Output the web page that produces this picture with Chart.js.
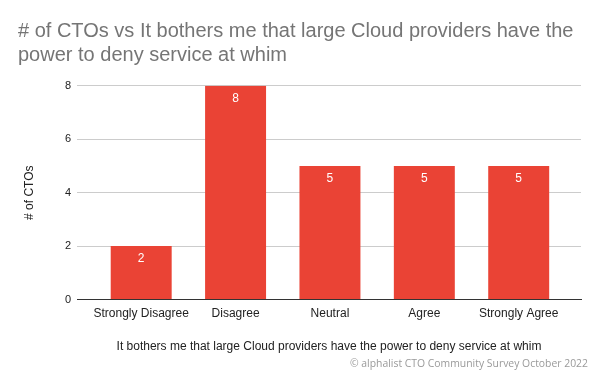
<!DOCTYPE html>
<html>
<head>
<meta charset="utf-8">
<script src="https://cdn.jsdelivr.net/npm/chart.js@4.4.0/dist/chart.umd.min.js"></script>
<style>
  html, body { margin: 0; padding: 0; background: #fff; }
  #wrap { width: 600px; height: 371px; }
</style>
</head>
<body>
<div id="wrap"><canvas id="chart"></canvas></div>
<script>
// --- DATA ---
const categories = ['Strongly Disagree', 'Disagree', 'Neutral', 'Agree', 'Strongly Agree'];
const ctoCounts = [2, 8, 5, 5, 5];
const yTicks = [0, 2, 4, 6, 8];

const FONT = "'Liberation Sans', Arial, sans-serif";

// draws the value inside the top of each bar
const barLabels = {
    id: 'barLabels',
    afterDatasetsDraw(chart) {
        const ctx = chart.ctx;
        const meta = chart.getDatasetMeta(0);
        ctx.save();
        ctx.fillStyle = '#ffffff';
        ctx.font = '12px ' + FONT;
        ctx.textAlign = 'center';
        ctx.textBaseline = 'middle';
        meta.data.forEach((bar, i) => {
            ctx.fillText(String(ctoCounts[i]), bar.x, bar.y + 12.5);
        });
        ctx.restore();
    }
};

new Chart(document.getElementById('chart'), {
    type: 'bar',
    data: {
        datasets: [{
            label: '# of CTOs',
            data: ctoCounts.map((v, i) => ({ x: i, y: v })),
            backgroundColor: '#ea4335',
            categoryPercentage: 0.646,
            barPercentage: 1.0
        }]
    },
    options: {
        responsive: true,
        maintainAspectRatio: false,
        animation: false,
        layout: { padding: { left: 18, right: 12, top: 0, bottom: 1 } },
        plugins: {
            legend: { display: false },
            tooltip: { enabled: false },
            title: {
                display: true,
                text: ['# of CTOs vs It bothers me that large Cloud providers have the', 'power to deny service at whim'],
                align: 'start',
                color: '#757575',
                font: { family: FONT, size: 20, weight: 'normal', lineHeight: 1.17 },
                padding: { top: 20, bottom: 19 }
            },
            subtitle: {
                display: true,
                position: 'bottom',
                align: 'end',
                text: '\u00a9 alphalist CTO Community Survey October 2022',
                color: '#9a9a9a',
                font: { family: "'Open Sans', sans-serif", size: 10.4, lineHeight: 1.2 },
                padding: { top: 3.3, bottom: 0 }
            }
        },
        scales: {
            x: {
                type: 'linear',
                offset: false,
                min: -0.68,
                max: 4.66,
                afterBuildTicks(scale) { scale.ticks = categories.map((c, i) => ({ value: i })); },
                grid: { display: false, drawTicks: false, offset: false },
                border: { color: '#333333', width: 1 },
                ticks: {
                    color: '#222222',
                    font: { family: FONT, size: 12 },
                    padding: 7,
                    maxRotation: 0,
                    autoSkip: false,
                    callback: (v) => categories[v]
                },
                title: {
                    display: true,
                    text: 'It bothers me that large Cloud providers have the power to deny service at whim',
                    color: '#222222',
                    font: { family: FONT, size: 12 },
                    padding: { top: 11.9, bottom: 0 }
                }
            },
            y: {
                min: 0,
                max: 8,
                afterBuildTicks(scale) { scale.ticks = yTicks.map(v => ({ value: v })); },
                grid: { color: '#cccccc', drawTicks: false },
                border: { display: false },
                ticks: { color: '#222222', font: { family: FONT, size: 11 }, padding: 6 },
                title: {
                    display: true,
                    text: '# of CTOs',
                    color: '#222222',
                    font: { family: FONT, size: 12 },
                    padding: { top: 4, bottom: 22.5 }
                }
            },
            // spacer so the plot stops short of the footer's right edge
            yRight: {
                position: 'right',
                display: true,
                grid: { display: false, drawTicks: false },
                border: { display: false },
                ticks: { display: false },
                afterFit(scale) { scale.width = 7; }
            }
        }
    },
    plugins: [barLabels]
});
</script>
</body>
</html>
